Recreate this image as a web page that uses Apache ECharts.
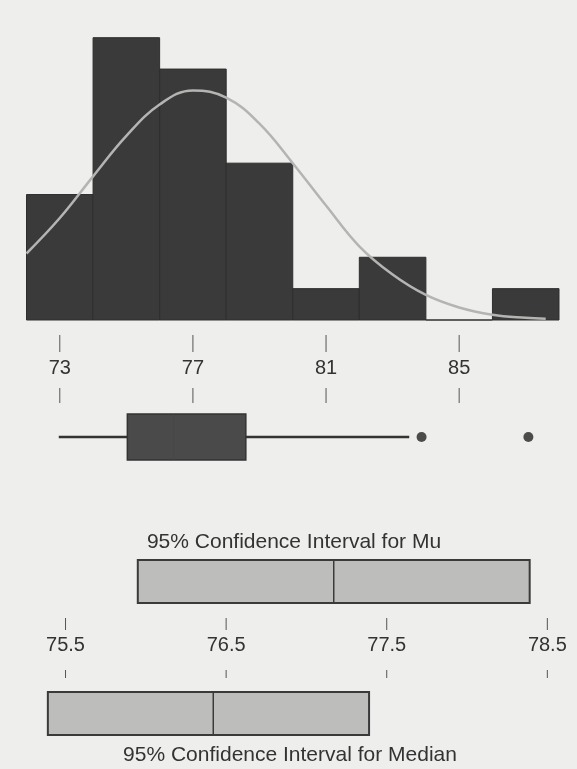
<!DOCTYPE html>
<html>
<head>
<meta charset="utf-8">
<script src="https://cdn.jsdelivr.net/npm/echarts@6/dist/echarts.min.js"></script>
<style>
html,body{margin:0;padding:0;background:#eeefec;}
#c{width:577px;height:769px;}
</style>
</head>
<body>
<div id="c"></div>
<script>
// Histogram bins (bin start, width 2) and counts
const binStarts = [72, 74, 76, 78, 80, 82, 84, 86];
const binWidth = 2;
const binCounts = [4, 9, 8, 5, 1, 2, 0, 1];
// Fitted normal curve
const curveX = [72, 73, 74, 75, 76, 77, 78, 79, 80, 81, 82, 83, 84, 85, 86, 87, 87.6];
const curveY = [2.12, 3.25, 4.58, 5.87, 6.87, 7.32, 7.09, 6.26, 5.0, 3.65, 2.35, 1.45, 0.8, 0.4, 0.17, 0.07, 0.04];
// Boxplot: min whisker, Q1, median, Q3, max whisker
const boxStats = [72.97, 75.03, 76.42, 78.59, 83.5];
const outliers = [83.87, 87.08];
const mainTicks = [73, 77, 81, 85];
// Confidence intervals: [low, centre, high]
const ciMu = [75.95, 77.17, 78.39];
const ciMedian = [75.39, 76.42, 77.39];
const ciTicks = [75.5, 76.5, 77.5, 78.5];

const FONT = '"Liberation Sans"';
const chart = echarts.init(document.getElementById('c'));

function hiddenX(gi, min, max) {
  return {gridIndex: gi, type: 'value', min: min, max: max, show: false};
}
function hiddenY(gi) {
  return {gridIndex: gi, type: 'value', min: 0, max: 1, show: false};
}

// tick row: upper tick, label, lower tick, laid out inside the row's grid
function tickRow(upperLen, labelY, lowerLen) {
  return function (params, api) {
    const v = api.value(0);
    const top = api.coord([v, 1]);
    const bot = api.coord([v, 0]);
    const x = top[0];
    return {type: 'group', children: [
      {type: 'line', shape: {x1: x, y1: top[1], x2: x, y2: top[1] + upperLen}, style: {stroke: '#555', lineWidth: 1}},
      {type: 'text', x: x, y: top[1] + labelY, style: {text: String(v), font: '20px ' + FONT, fill: '#333', align: 'center', verticalAlign: 'middle'}},
      {type: 'line', shape: {x1: x, y1: bot[1] - lowerLen, x2: x, y2: bot[1]}, style: {stroke: '#555', lineWidth: 1}}
    ]};
  };
}

const option = {
  backgroundColor: '#eeefec',
  animation: false,
  grid: [
    {left: 26.5, right: 18, top: 37.7, height: 282.3},   // histogram
    {left: 26.5, right: 18, top: 335, height: 68},        // main tick row
    {left: 26.5, right: 18, top: 414, height: 46},        // boxplot
    {left: 33.4, right: 13.6, top: 560, height: 43},      // CI mu
    {left: 33.4, right: 13.6, top: 618, height: 60},      // CI tick row
    {left: 33.4, right: 13.6, top: 692, height: 43}       // CI median
  ],
  xAxis: [
    hiddenX(0, 72, 88), hiddenX(1, 72, 88), hiddenX(2, 72, 88),
    hiddenX(3, 75.3, 78.6), hiddenX(4, 75.3, 78.6), hiddenX(5, 75.3, 78.6)
  ],
  yAxis: [
    {gridIndex: 0, type: 'value', min: 0, max: 9, show: false},
    hiddenY(1), hiddenY(2), hiddenY(3), hiddenY(4), hiddenY(5)
  ],
  graphic: [
    {type: 'text', x: 294, y: 542, style: {text: '95% Confidence Interval for Mu', font: '21px ' + FONT, fill: '#333', align: 'center', verticalAlign: 'middle'}},
    {type: 'text', x: 290, y: 755, style: {text: '95% Confidence Interval for Median', font: '21px ' + FONT, fill: '#333', align: 'center', verticalAlign: 'middle'}}
  ],
  series: [
    {
      type: 'custom', xAxisIndex: 0, yAxisIndex: 0,
      data: binStarts.map((s, i) => [s, s + binWidth, binCounts[i]]),
      renderItem: function (params, api) {
        const p0 = api.coord([api.value(0), 0]);
        const p1 = api.coord([api.value(1), api.value(2)]);
        return {type: 'rect', shape: {x: p0[0], y: p1[1], width: p1[0] - p0[0], height: p0[1] - p1[1]},
          style: {fill: '#3a3a3a', stroke: '#2e2e2e', lineWidth: 1}};
      }
    },
    {
      type: 'line', xAxisIndex: 0, yAxisIndex: 0, smooth: 0.4, symbol: 'none',
      data: curveX.map((x, i) => [x, curveY[i]]),
      lineStyle: {color: '#b4b4b2', width: 2.5}, z: 5
    },
    {
      type: 'custom', xAxisIndex: 1, yAxisIndex: 1,
      data: mainTicks.map(v => [v]),
      renderItem: tickRow(17, 33, 15)
    },
    {
      type: 'custom', xAxisIndex: 2, yAxisIndex: 2,
      data: [boxStats],
      renderItem: function (params, api) {
        const t = api.coord([72, 1])[1];
        const b = api.coord([72, 0])[1];
        const y = (t + b) / 2;
        const xs = [0, 1, 2, 3, 4].map(k => api.coord([api.value(k), 0.5])[0]);
        return {type: 'group', children: [
          {type: 'line', shape: {x1: xs[0], y1: y, x2: xs[1], y2: y}, style: {stroke: '#333', lineWidth: 2.5}},
          {type: 'line', shape: {x1: xs[3], y1: y, x2: xs[4], y2: y}, style: {stroke: '#333', lineWidth: 2.5}},
          {type: 'rect', shape: {x: xs[1], y: t, width: xs[3] - xs[1], height: b - t}, style: {fill: '#4a4a4a', stroke: '#333', lineWidth: 1.5}},
          {type: 'line', shape: {x1: xs[2], y1: t, x2: xs[2], y2: b}, style: {stroke: '#474747', lineWidth: 1}}
        ]};
      }
    },
    {
      type: 'scatter', xAxisIndex: 2, yAxisIndex: 2, symbolSize: 10,
      data: outliers.map(v => [v, 0.5]),
      itemStyle: {color: '#222'}
    },
    {
      type: 'custom', xAxisIndex: 3, yAxisIndex: 3,
      data: [ciMu],
      renderItem: ciRender
    },
    {
      type: 'custom', xAxisIndex: 4, yAxisIndex: 4,
      data: ciTicks.map(v => [v]),
      renderItem: tickRow(12, 27, 8)
    },
    {
      type: 'custom', xAxisIndex: 5, yAxisIndex: 5,
      data: [ciMedian],
      renderItem: ciRender
    }
  ]
};

function ciRender(params, api) {
  const lo = api.coord([api.value(0), 0]);
  const hi = api.coord([api.value(2), 1]);
  const mid = api.coord([api.value(1), 0]);
  return {type: 'group', children: [
    {type: 'rect', shape: {x: lo[0], y: hi[1], width: hi[0] - lo[0], height: lo[1] - hi[1]},
      style: {fill: '#bdbdbb', stroke: '#3a3a3a', lineWidth: 2}},
    {type: 'line', shape: {x1: mid[0], y1: hi[1], x2: mid[0], y2: lo[1]}, style: {stroke: '#3a3a3a', lineWidth: 1.5}}
  ]};
}

chart.setOption(option);
</script>
</body>
</html>
